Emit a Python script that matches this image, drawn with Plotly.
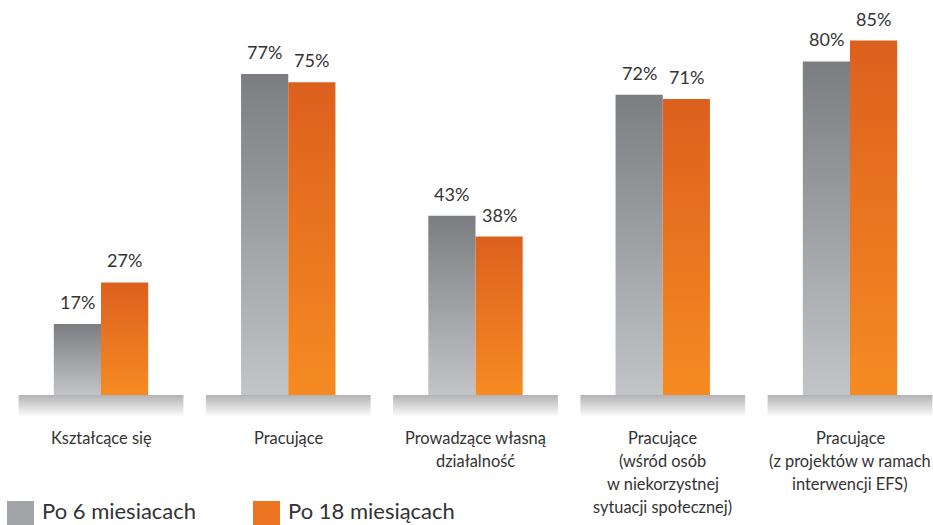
import plotly.graph_objects as go

# ---- data ----
categories = [
    "Kształcące się",
    "Pracujące",
    "Prowadzące własną<br>działalność",
    "Pracujące<br>(wśród osób<br>w niekorzystnej<br>sytuacji społecznej)",
    "Pracujące<br>(z projektów w ramach<br>interwencji EFS)",
]
po_6 = [17, 77, 43, 72, 80]
po_18 = [27, 75, 38, 71, 85]
series_names = ["Po 6 miesiacach", "Po 18 miesiącach"]

# ---- style ----
FONT = "Lato, 'Open Sans', sans-serif"
TXT = "#333333"
GRAY_SCALE = [[0, "#c3c4c7"], [1, "#7c7d81"]]
ORANGE_SCALE = [[0, "#f68b22"], [1, "#dc601e"]]
FLOOR_SCALE = [[0, "#ffffff"], [1, "#b2b2b5"]]
BAR_W = 0.252
FLOOR_HALF = 0.44
FLOOR_DEPTH = 5.28

W, H = 933, 525
MB = 108
plot_h = H - MB

fig = go.Figure()

# floors under each category
for i, _ in enumerate(categories):
    fig.add_trace(go.Scatter(
        x=[i - FLOOR_HALF, i + FLOOR_HALF, i + FLOOR_HALF, i - FLOOR_HALF, i - FLOOR_HALF],
        y=[-FLOOR_DEPTH, -FLOOR_DEPTH, 0, 0, -FLOOR_DEPTH],
        mode="lines", line=dict(width=0), fill="toself",
        fillgradient=dict(type="vertical", colorscale=FLOOR_SCALE),
        hoverinfo="skip", showlegend=False,
    ))

# bars with vertical gradients
for vals, scale, off, name in [(po_6, GRAY_SCALE, -BAR_W, series_names[0]),
                               (po_18, ORANGE_SCALE, 0.0, series_names[1])]:
    for i, v in enumerate(vals):
        x0, x1 = i + off, i + off + BAR_W
        fig.add_trace(go.Scatter(
            x=[x0, x1, x1, x0, x0], y=[0, 0, v, v, 0],
            mode="lines", line=dict(width=0), fill="toself",
            fillgradient=dict(type="vertical", colorscale=scale),
            name=name, hoverinfo="text", text=f"{name}: {v}%",
            showlegend=False,
        ))
        fig.add_annotation(
            x=i + off + BAR_W / 2, y=v, text=f"{v}%", showarrow=False,
            yanchor="bottom", yshift=9,
            font=dict(family=FONT, size=18, color=TXT),
        )

# category labels (one annotation per line for line spacing)
LINE0 = 438
LINE_STEP = 22.7
for i, c in enumerate(categories):
    for k, line in enumerate(c.split("<br>")):
        py = LINE0 + k * LINE_STEP
        fig.add_annotation(
            x=i, xref="x", y=(plot_h - py) / plot_h, yref="paper",
            text=line, showarrow=False, yanchor="middle", xanchor="center",
            font=dict(family=FONT, size=16.4, color=TXT),
        )

# manual legend
legend_items = [(series_names[0], "#a3a4a7", 7), (series_names[1], "#ea7421", 253)]
for name, col, px in legend_items:
    fig.add_shape(
        type="rect", xref="paper", yref="paper",
        x0=px / W, x1=(px + 27) / W,
        y0=(plot_h - 501) / plot_h, y1=(plot_h - 528) / plot_h,
        fillcolor=col, line=dict(width=0), layer="above",
    )
    fig.add_annotation(
        x=(px + 33) / W, xref="paper", y=(plot_h - 510) / plot_h, yref="paper",
        text=name, showarrow=False, xanchor="left", yanchor="middle",
        font=dict(family=FONT, size=22, color=TXT),
    )

x_left = -101 / 187.25
x_right = 4 + 83 / 187.25
y_bottom = -FLOOR_DEPTH
y_top = 395 / 4.17

fig.update_layout(
    width=W, height=H,
    margin=dict(l=0, r=0, t=0, b=MB),
    paper_bgcolor="white", plot_bgcolor="white",
    showlegend=False,
    xaxis=dict(range=[x_left, x_right], visible=False, fixedrange=True),
    yaxis=dict(range=[y_bottom, y_top], visible=False, fixedrange=True),
    font=dict(family=FONT, color=TXT),
)

fig.write_html(
    "out.html",
    config={"displayModeBar": False},
    post_script="document.body.style.margin='0';document.body.style.overflow='hidden';",
)
